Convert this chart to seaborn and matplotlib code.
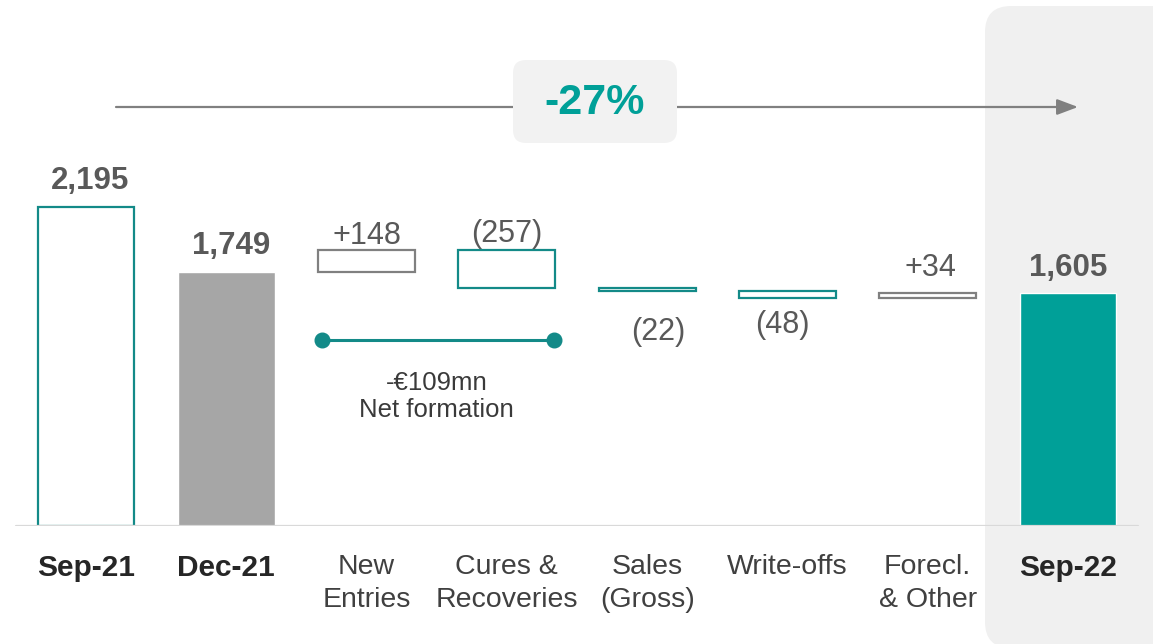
import numpy as np
import pandas as pd
import matplotlib.pyplot as plt
import seaborn as sns
from matplotlib.patches import FancyBboxPatch
from matplotlib.transforms import IdentityTransform

# data (EUR mn)
categories = ["Sep-21", "Dec-21", "New\nEntries", "Cures &\nRecoveries", "Sales\n(Gross)",
              "Write-offs", "Forecl.\n& Other", "Sep-22"]
total_names = ["Sep-21", "Dec-21", "Sep-22"]
total_values = [2195, 1749, 1605]
step_names = ["New\nEntries", "Cures &\nRecoveries", "Sales\n(Gross)", "Write-offs", "Forecl.\n& Other"]
step_values = [148, -257, -22, -48, 34]
value_labels = ["2,195", "1,749", "+148", "(257)", "(22)", "(48)", "+34", "1,605"]
change_pct = "-27%"
net_text = "-€109mn\nNet formation"

TEAL = "#00A098"
TEAL_DARK = "#138A88"
GREY_BAR = "#A6A6A6"
GREY_LINE = "#808080"
TEXT_GREY = "#595959"
W = 0.69

sns.set_theme(style="white")
plt.rcParams["font.family"] = ["Liberation Sans", "DejaVu Sans"]

fig = plt.figure(figsize=(11.53, 6.44), dpi=100)
ax = fig.add_axes([0, 118 / 644, 1, 526 / 644])
ax.patch.set_visible(False)

# total bars
totals = pd.DataFrame({"category": total_names, "value": total_values})
sns.barplot(data=totals, x="category", y="value", hue="category", order=categories,
            palette={"Sep-21": "white", "Dec-21": GREY_BAR, "Sep-22": TEAL},
            saturation=1, width=W, legend=False, ax=ax, zorder=2)
for p in ax.patches:
    if abs(p.get_x() + p.get_width() / 2) < 0.1:   # Sep-21 is hollow
        p.set_facecolor("white")
        p.set_edgecolor(TEAL_DARK)
        p.set_linewidth(1.6)

# floating steps
start = total_values[1]
ends = start + np.cumsum(step_values)
starts = ends - np.array(step_values)
step_x = [categories.index(n) for n in step_names]
edges = [GREY_LINE if v > 0 else TEAL_DARK for v in step_values]
ax.bar(step_x, np.abs(step_values), bottom=np.minimum(starts, ends), width=W,
       facecolor="white", edgecolor=edges, linewidth=1.6, zorder=2)

# value labels
tops = list(total_values[:2]) + list(np.maximum(starts, ends)) + [total_values[2]]
bots = list(total_values[:2]) + list(np.minimum(starts, ends)) + [total_values[2]]
label_dx = [3, 3.5, 0, 0, 8, -3.5, 2, 0]
label_dy = [19, 18.5, 10.5, 11.5, -29.5, -19.5, 18, 18]
for i, lab in enumerate(value_labels):
    bold = i in (0, 1, 7)
    y = tops[i] if label_dy[i] > 0 else bots[i]
    ax.annotate(lab, (i, y), xytext=(label_dx[i], label_dy[i]), textcoords="offset points",
                ha="center", va="center", fontsize=22.5 if bold else 22,
                fontweight="bold" if bold else "normal", color=TEXT_GREY, zorder=5)

# net formation bracket
NET_Y = 1280
x0, x1 = step_x[0] - W / 2, step_x[1] + W / 2
ax.plot([x0 + 0.03, x1 - 0.01], [NET_Y, NET_Y], color=TEAL_DARK, lw=2.2, marker="o",
        markersize=10.5, zorder=3)
ax.annotate(net_text, ((x0 + x1) / 2, NET_Y), xytext=(0, -22), textcoords="offset points",
            ha="center", va="top", fontsize=18.5, color="#3A3A3A", linespacing=1.2)

# baseline
ax.axhline(0, xmin=16 / 1153, xmax=1138 / 1153, color="#D9D9D9", lw=1.6, zorder=3)

# grey panel behind the final bar
ax.add_patch(FancyBboxPatch((985, -4), 200, 642, boxstyle="round,pad=0,rounding_size=26",
                            transform=IdentityTransform(), fc="#F0F0F0", ec="none",
                            clip_on=False, zorder=0))

# overall change arrow and label
ax.annotate("", xy=(1078, 644 - 107), xytext=(116, 644 - 107), xycoords="figure pixels",
            arrowprops=dict(arrowstyle="-|>,head_length=0.85,head_width=0.32", mutation_scale=15,
                            color=GREY_LINE, lw=1.6, shrinkA=0, shrinkB=0), zorder=3)
ax.add_patch(FancyBboxPatch((513, 644 - 143), 164, 83, boxstyle="round,pad=0,rounding_size=13",
                            transform=IdentityTransform(), fc="#F2F2F2", ec="none",
                            clip_on=False, zorder=4))
ax.annotate(change_pct, (595, 644 - 103), xycoords="figure pixels", ha="center", va="center",
            fontsize=31, fontweight="bold", color=TEAL, zorder=5)

# axes styling
ax.set_xlim(-0.613, 7.606)
ax.set_ylim(0, 3620)
ax.set_xlabel("")
ax.set_ylabel("")
ax.set_yticks([])
ax.set_xticks(range(len(categories)), categories)
ax.tick_params(axis="x", length=0, pad=20, labelsize=20.5, labelcolor="#404040")
for i, t in enumerate(ax.get_xticklabels()):
    t.set_linespacing(1.38)
    if i in (0, 1, 7):
        t.set_fontweight("bold")
        t.set_fontsize(21.5)
        t.set_color("#262626")
for s in ax.spines.values():
    s.set_visible(False)

fig.savefig("out.png", dpi=100)
